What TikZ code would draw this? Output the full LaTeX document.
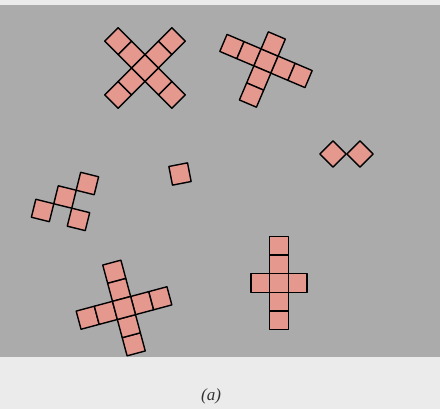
\documentclass[tikz,border=0pt]{standalone}
\usepackage{fontspec}
\setmainfont{Liberation Serif}
\definecolor{panelgray}{RGB}{170,171,170}
\definecolor{bandgray}{RGB}{235,235,235}
\definecolor{cellfill}{RGB}{229,152,142}
\tikzset{
  cellbox/.style={draw=black, fill=cellfill, line width=1.4pt, line join=round},
}
% one unit cell of a shape, at grid position (#1,#2)
\newcommand\gridcell[2]{\draw[cellbox] ({#1-0.5},{#2-0.5}) rectangle ({#1+0.5},{#2+0.5});}
\begin{document}
\begin{tikzpicture}[x=1pt,y=-1pt]
\useasboundingbox (0,0) rectangle (440,409);
\fill[bandgray] (0,0) rectangle (440,5);
\fill[panelgray] (0,5) rectangle (440,357);
\fill[bandgray] (0,357) rectangle (440,409);

% diagonal cross
\begin{scope}[shift={(145,68)}, rotate=45, x=19pt, y=19pt]
  \foreach \i in {-2,-1,1,2} {\gridcell{\i}{0}}
  \foreach \j in {-2,-1,1,2} {\gridcell{0}{\j}}
  \gridcell{0}{0}
\end{scope}

% tilted cross, short upper arm
\begin{scope}[shift={(266,61)}, rotate=-23, x=18.5pt, y=18.5pt]
  \foreach \i in {-2,-1,0,1,2} {\gridcell{\i}{0}}
  \foreach \j in {1,-1,-2} {\gridcell{0}{\j}}
\end{scope}

% corner-connected group
\begin{scope}[shift={(65,197)}, rotate=-14, x=18.5pt, y=18.5pt]
  \gridcell{0}{0}
  \gridcell{1}{1}
  \gridcell{-1}{-1}
  \gridcell{1}{-1}
\end{scope}

% single cell
\begin{scope}[shift={(180,174)}, rotate=11, x=19pt, y=19pt]
  \gridcell{0}{0}
\end{scope}

% pair of diamonds
\begin{scope}[shift={(333,154)}, rotate=45, x=18.5pt, y=18.5pt]
  \gridcell{0}{0}
\end{scope}
\begin{scope}[shift={(360,154)}, rotate=45, x=18.5pt, y=18.5pt]
  \gridcell{0}{0}
\end{scope}

% lower tilted cross
\begin{scope}[shift={(124,308)}, rotate=15, x=18.8pt, y=18.8pt]
  \foreach \i in {-2,-1,1,2} {\gridcell{\i}{0}}
  \foreach \j in {-2,-1,1,2} {\gridcell{0}{\j}}
  \gridcell{0}{0}
\end{scope}

% upright cross
\begin{scope}[shift={(279,283)}, x=18.7pt, y=18.7pt]
  \foreach \j in {-2,-1,0,1,2} {\gridcell{0}{\j}}
  \gridcell{-1}{0}
  \gridcell{1}{0}
\end{scope}

\node[font=\fontsize{17}{19}\selectfont\itshape, text=black!80] (caption) at (211,396) {(a)};
\end{tikzpicture}
\end{document}
